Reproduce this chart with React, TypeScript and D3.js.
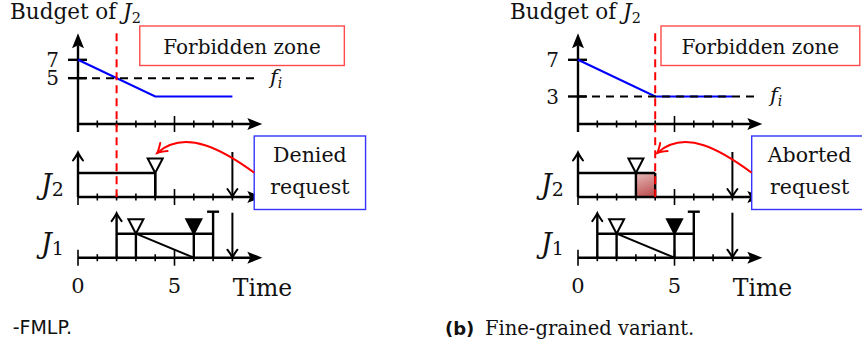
import React from "react";
import * as d3 from "d3";

// Budget of J2 over time (same in both variants)
const BUDGET_A = [
  { t: 0, b: 7 },
  { t: 4, b: 3 },
  { t: 8, b: 3 },
];
const BUDGET_B = [
  { t: 0, b: 7 },
  { t: 4, b: 3 },
  { t: 8, b: 3 },
];
const BUDGET_TICKS_A = [7, 5];
const BUDGET_TICKS_B = [7, 3];
const THRESHOLD_A = 5;
const THRESHOLD_B = 3;
const FORBIDDEN_A = 2;
const FORBIDDEN_B = 4;

const TIME_TICKS = [0, 1, 2, 3, 4, 5, 6, 7, 8, 9];
const MAJOR_TICKS = [0, 5];
const TIME_LABELS = [0, 5];

// Jobs: release, request, lock, end, deadline
const J2_A = { release: 0, request: 4, end: 4, deadline: 8 };
const J1_A = { release: 2, request: 3, lock: 6, end: 7, deadline: 8 };
const J2_B = { release: 0, request: 3, end: 4, deadline: 8, aborted: [3, 4] };
const J1_B = { release: 1, request: 2, lock: 5, end: 6, deadline: 8 };

const NOTE_A = ["Denied", "request"];
const NOTE_B = ["Aborted", "request"];

const SERIF = "'DejaVu Serif', serif";
const SANS = "'DejaVu Sans', sans-serif";
const UNIT = 19.3;
const BUDGET_Y0 = 124;
const BUDGET_UNIT = 9.17;
const LW = 2.4;

type Job = { release: number; request: number; end: number; deadline: number; lock?: number; aborted?: number[] };

function latexHead(tx: number, ty: number, dx: number, dy: number, len = 15, hw = 6) {
  const nx = -dy, ny = dx;
  const bx = tx - dx * len, by = ty - dy * len;
  return `M${tx},${ty} L${bx + nx * hw},${by + ny * hw} L${bx + dx * 3},${by + dy * 3} L${bx - nx * hw},${by - ny * hw} Z`;
}

function toHead(tx: number, ty: number, dx: number, dy: number, len = 8, hw = 5) {
  const nx = -dy, ny = dx;
  const bx = tx - dx * len, by = ty - dy * len;
  const cx = tx - dx * len * 0.35, cy = ty - dy * len * 0.35;
  return `M${bx + nx * hw},${by + ny * hw} Q${cx + nx * 1.2},${cy + ny * 1.2} ${tx},${ty} Q${cx - nx * 1.2},${cy - ny * 1.2} ${bx - nx * hw},${by - ny * hw}`;
}

function Timeline({ x, axisY, job, capped, gradId }: { x: d3.ScaleLinear<number, number>; axisY: number; job: Job; capped: boolean; gradId: string }) {
  const y = d3.scaleLinear().domain([0, 1]).range([axisY, axisY - 24]);
  const top = y(1);
  const tri = (t: number, filled: boolean) => {
    const cx = x(t);
    return (
      <path
        d={`M${cx},${top} L${cx - 7.5},${top - 14.5} L${cx + 7.5},${top - 14.5} Z`}
        fill={filled ? "#000" : "#fff"}
        stroke="#000"
        strokeWidth={2}
        strokeLinejoin="miter"
      />
    );
  };
  return (
    <g>
      {job.aborted && (
        <rect x={x(job.aborted[0])} y={top} width={x(job.aborted[1]) - x(job.aborted[0])} height={axisY - top} fill={`url(#${gradId})`} />
      )}
      {/* axis */}
      <line x1={x(0)} x2={x(9.55) - 12} y1={axisY} y2={axisY} stroke="#000" strokeWidth={LW} />
      <path d={latexHead(x(9.55), axisY, 1, 0)} fill="#000" />
      {TIME_TICKS.map((t) => {
        const h = MAJOR_TICKS.includes(t) ? 8 : 3.5;
        return <line key={t} x1={x(t)} x2={x(t)} y1={axisY - h} y2={axisY + h} stroke="#000" strokeWidth={1.6} />;
      })}
      {/* execution window */}
      <line x1={x(job.release)} x2={x(job.end)} y1={top} y2={top} stroke="#000" strokeWidth={LW} />
      <line x1={x(job.end)} x2={x(job.end)} y1={capped ? axisY - 46 : top} y2={axisY} stroke="#000" strokeWidth={LW} />
      {capped && <line x1={x(job.end) - 6} x2={x(job.end) + 6} y1={axisY - 46} y2={axisY - 46} stroke="#000" strokeWidth={LW} />}
      <line x1={x(job.request)} x2={x(job.request)} y1={top} y2={axisY} stroke="#000" strokeWidth={LW} />
      {job.lock !== undefined && (
        <>
          <line x1={x(job.request)} x2={x(job.lock)} y1={top} y2={axisY} stroke="#000" strokeWidth={2} />
          <line x1={x(job.lock)} x2={x(job.lock)} y1={top} y2={axisY} stroke="#000" strokeWidth={LW} />
          {tri(job.lock, true)}
        </>
      )}
      {tri(job.request, false)}
      {/* release arrow */}
      <line x1={x(job.release)} x2={x(job.release)} y1={axisY} y2={axisY - 43.5} stroke="#000" strokeWidth={LW} />
      <path d={toHead(x(job.release), axisY - 44.5, 0, -1)} fill="none" stroke="#000" strokeWidth={2} strokeLinecap="round" />
      {/* deadline arrow */}
      <line x1={x(job.deadline)} x2={x(job.deadline)} y1={axisY - 45} y2={axisY - 1} stroke="#000" strokeWidth={2} />
      <path d={toHead(x(job.deadline), axisY, 0, 1)} fill="none" stroke="#000" strokeWidth={2} strokeLinecap="round" />
    </g>
  );
}

type PanelProps = {
  x0: number;
  budget: { t: number; b: number }[];
  budgetTicks: number[];
  threshold: number;
  forbidden: number;
  j2: Job;
  j1: Job;
  note: string[];
  zoneBox: [number, number];
  noteBox: [number, number];
  gradId: string;
};

function Panel(p: PanelProps) {
  const x = d3.scaleLinear().domain([0, 1]).range([p.x0, p.x0 + UNIT]);
  const yB = d3.scaleLinear().domain([0, 1]).range([BUDGET_Y0, BUDGET_Y0 - BUDGET_UNIT]);
  const line = d3
    .line<{ t: number; b: number }>()
    .x((d) => x(d.t))
    .y((d) => yB(d.b));
  const J2Y = 197;
  const J1Y = 257.7;
  const tipX = x(4) + 2;
  const tipY = 153;
  const startX = x(p.noteBox[0]);
  const startY = 172.7;
  const c2x = tipX + 28, c2y = 128;
  const dl = Math.hypot(tipX - c2x, tipY - c2y);
  const red = "#ff0000";
  return (
    <g>
      <text x={p.x0 - 68} y={18.5} fontFamily={SERIF} fontSize={21.5} fill="#111">
        Budget of <tspan fontStyle="italic">J</tspan>
        <tspan fontSize={14.5} dy={4}>2</tspan>
      </text>
      {/* forbidden zone box */}
      <rect x={x(p.zoneBox[0])} y={26} width={x(p.zoneBox[1]) - x(p.zoneBox[0])} height={39.5} fill="none" stroke="#ff4b4b" strokeWidth={1.4} />
      <text x={(x(p.zoneBox[0]) + x(p.zoneBox[1])) / 2} y={54} textAnchor="middle" fontFamily={SERIF} fontSize={20} fill="#111">
        Forbidden zone
      </text>
      {/* budget axes */}
      <line x1={x(0)} x2={x(9.55) - 12} y1={BUDGET_Y0} y2={BUDGET_Y0} stroke="#000" strokeWidth={LW} />
      <path d={latexHead(x(9.55), BUDGET_Y0, 1, 0)} fill="#000" />
      {TIME_TICKS.map((t) => {
        const h = MAJOR_TICKS.includes(t) ? 8 : 3.5;
        return <line key={t} x1={x(t)} x2={x(t)} y1={BUDGET_Y0 - h} y2={BUDGET_Y0 + h} stroke="#000" strokeWidth={1.6} />;
      })}
      <line x1={x(0)} x2={x(0)} y1={BUDGET_Y0 + 8} y2={yB(9.9) + 12} stroke="#000" strokeWidth={LW} />
      <path d={latexHead(x(0), yB(9.9), 0, -1)} fill="#000" />
      {p.budgetTicks.map((v) => (
        <g key={v}>
          <line x1={x(0) - 10} x2={x(0) + 9} y1={yB(v)} y2={yB(v)} stroke="#000" strokeWidth={LW} />
          <text x={x(0) - 19} y={yB(v)} dy="0.36em" textAnchor="end" fontFamily={SERIF} fontSize={20} fill="#111">
            {v}
          </text>
        </g>
      ))}
      <path d={line(p.budget) || ""} fill="none" stroke="#0000ff" strokeWidth={2.2} />
      <line x1={x(0)} x2={x(9.35)} y1={yB(p.threshold)} y2={yB(p.threshold)} stroke="#000" strokeWidth={2} strokeDasharray="8,6" />
      <text x={x(9.95)} y={yB(p.threshold) + 6} fontFamily={SERIF} fontSize={21} fontStyle="italic" fill="#111">
        f<tspan fontSize={14} dy={4}>i</tspan>
      </text>
      {/* timelines */}
      <Timeline x={x} axisY={J2Y} job={p.j2} capped={false} gradId={p.gradId} />
      <Timeline x={x} axisY={J1Y} job={p.j1} capped={true} gradId={p.gradId} />
      <text x={p.x0 - 37} y={J2Y - 3.5} fontFamily={SERIF} fontSize={27} fontStyle="italic" fill="#111">
        J<tspan fontStyle="normal" fontSize={19} dy={2}>2</tspan>
      </text>
      <text x={p.x0 - 37} y={J1Y - 5} fontFamily={SERIF} fontSize={27} fontStyle="italic" fill="#111">
        J<tspan fontStyle="normal" fontSize={19} dy={2}>1</tspan>
      </text>
      {TIME_LABELS.map((t) => (
        <text key={t} x={x(t)} y={293} textAnchor="middle" fontFamily={SERIF} fontSize={21} fill="#111">
          {t}
        </text>
      ))}
      <text x={x(8.02)} y={295.5} fontFamily={SERIF} fontSize={23.5} fill="#111">
        Time
      </text>
      {/* forbidden zone boundary */}
      <line x1={x(p.forbidden)} x2={x(p.forbidden)} y1={yB(9.9)} y2={J2Y} stroke={red} strokeWidth={2} strokeDasharray="8,5" />
      {/* note box and arrow */}
      <rect x={x(p.noteBox[0])} y={136} width={x(p.noteBox[1]) - x(p.noteBox[0])} height={73.5} fill="#fff" stroke="#3434ff" strokeWidth={1.4} />
      <text x={(x(p.noteBox[0]) + x(p.noteBox[1])) / 2} y={162} textAnchor="middle" fontFamily={SERIF} fontSize={20.5} fill="#111">
        {p.note[0]}
      </text>
      <text x={(x(p.noteBox[0]) + x(p.noteBox[1])) / 2} y={194} textAnchor="middle" fontFamily={SERIF} fontSize={20.5} fill="#111">
        {p.note[1]}
      </text>
      <path d={`M${startX},${startY} C${startX - 30},${startY - 22} ${c2x},${c2y} ${tipX},${tipY}`} fill="none" stroke={red} strokeWidth={2} />
      <path d={toHead(tipX, tipY, (tipX - c2x) / dl, (tipY - c2y) / dl, 9, 5.5)} fill="none" stroke={red} strokeWidth={2} strokeLinecap="round" />
    </g>
  );
}

export default function App() {
  return (
    <svg width={862} height={353} viewBox="0 0 862 353" style={{ position: "absolute", left: 0, top: 0, background: "#fff" }}>
      <defs>
        {["gA", "gB"].map((id) => (
          <linearGradient key={id} id={id} x1="0" y1="0" x2="0.3" y2="1">
            <stop offset="0" stopColor="#e6baba" />
            <stop offset="1" stopColor="#c25a5a" />
          </linearGradient>
        ))}
      </defs>
      <Panel
        x0={78}
        budget={BUDGET_A}
        budgetTicks={BUDGET_TICKS_A}
        threshold={THRESHOLD_A}
        forbidden={FORBIDDEN_A}
        j2={J2_A}
        j1={J1_A}
        note={NOTE_A}
        zoneBox={[3.2, 13.8]}
        noteBox={[9.13, 14.9]}
        gradId="gA"
      />
      <Panel
        x0={578}
        budget={BUDGET_B}
        budgetTicks={BUDGET_TICKS_B}
        threshold={THRESHOLD_B}
        forbidden={FORBIDDEN_B}
        j2={J2_B}
        j1={J1_B}
        note={NOTE_B}
        zoneBox={[4.3, 14.6]}
        noteBox={[9.0, 15.0]}
        gradId="gB"
      />
      <text x={72} y={334} textAnchor="end" fontFamily={SANS} fontSize={19} fill="#111">
        -FMLP.
      </text>
      <text x={445} y={335} fontFamily={SANS} fontSize={18} fontWeight="bold" fill="#111">
        (b)
      </text>
      <text x={485} y={335} fontFamily={SERIF} fontSize={19.5} fill="#111">
        Fine-grained variant.
      </text>
    </svg>
  );
}
